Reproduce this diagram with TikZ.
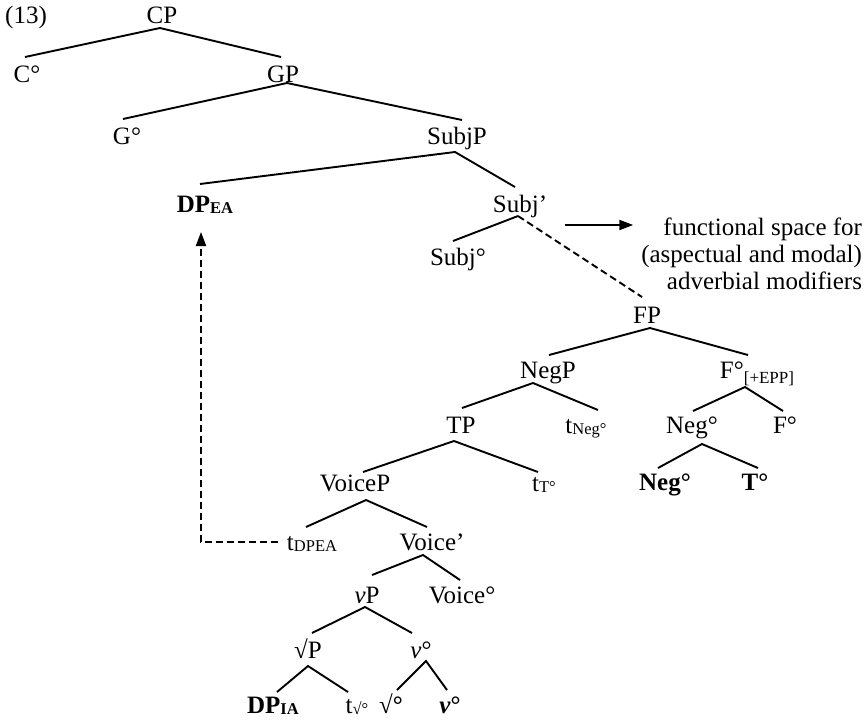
\documentclass[tikz,border=0pt]{standalone}
\usepackage{fontspec}
\setmainfont{Liberation Serif}
\usetikzlibrary{arrows.meta}
\newcommand\mysub[1]{\raisebox{-1.5pt}{\fontsize{16.5}{17}\selectfont #1}}
\begin{document}
\begin{tikzpicture}[x=1pt,y=-1pt,
  lbl/.style={inner sep=0pt, outer sep=0pt, anchor=base, font=\fontsize{25}{27}\selectfont},
  edge/.style={line width=1.9pt},
  dashedge/.style={line width=1.9pt, dash pattern=on 7pt off 4pt},
  tip/.style={-{Triangle[length=14pt,width=10pt]}}
  ]
\useasboundingbox (0,0) rectangle (867,721);
% labels
\node[lbl] (n13) at (26,23) {(13)};
\node[lbl] (CP) at (162,23) {CP};
\node[lbl] (C) at (27,82) {C°};
\node[lbl] (GP) at (283,82) {GP};
\node[lbl] (G) at (127,144) {G°};
\node[lbl] (SubjP) at (457,144) {SubjP};
\node[lbl] (DPEA) at (205,212) {\textbf{DP\mysub{EA}}};
\node[lbl] (Subjb) at (520,212) {Subj’};
\node[lbl] (Subjo) at (458,265) {Subj°};
\node[lbl, anchor=north east, align=right] (func) at (862,218) {functional space for\\(aspectual and modal)\\adverbial modifiers};
\node[lbl] (FP) at (647,323) {FP};
\node[lbl] (NegP) at (548,378) {NegP};
\node[lbl] (Fepp) at (757,378) {F°\raisebox{-5pt}{\fontsize{17}{17}\selectfont[+EPP]}};
\node[lbl] (TP) at (461,433) {TP};
\node[lbl] (tNeg) at (586,433) {t\mysub{Neg°}};
\node[lbl] (Neg) at (692,433) {Neg°};
\node[lbl] (Fo) at (785,433) {F°};
\node[lbl] (tT) at (544,491) {t\mysub{T°}};
\node[lbl] (NegB) at (665,490) {\textbf{Neg°}};
\node[lbl] (TB) at (755,490) {\textbf{T°}};
\node[lbl] (VoiceP) at (355,491) {VoiceP};
\node[lbl] (tDPEA) at (312,550) {t\mysub{DPEA}};
\node[lbl] (Voiceb) at (432,550) {Voice’};
\node[lbl] (vP) at (367,603) {\textit{v}P};
\node[lbl] (Voiceo) at (462,603) {Voice°};
\node[lbl] (rootP) at (308,658) {√P};
\node[lbl] (vo) at (421,658) {\textit{v}°};
\node[lbl] (DPIA) at (273,713) {\textbf{DP\mysub{IA}}};
\node[lbl] (troot) at (357,713) {t\mysub{√°}};
\node[lbl] (rootB) at (391,713) {\textbf{√°}};
\node[lbl] (vB) at (450,713) {\textbf{\textit{v}°}};
% tree edges
\draw[edge] ([shift={(-2,-25)}]C.base) -- ([shift={(-2,5)}]CP.base) -- ([shift={(-2,-25)}]GP.base);
\draw[edge] ([shift={(-4,-25)}]G.base) -- ([shift={(4,1)}]GP.base) -- ([shift={(5,-24)}]SubjP.base);
\draw[edge] ([shift={(-5,-28)}]DPEA.base) -- ([shift={(-2,8)}]SubjP.base) -- ([shift={(-5,-25)}]Subjb.base);
\draw[edge] ([shift={(-5,-24)}]Subjo.base) -- ([shift={(-2,4)}]Subjb.base);
\draw[dashedge] ([shift={(-2,4)}]Subjb.base) -- ([shift={(-5,-26)}]FP.base);
\draw[edge] ([shift={(1,-23)}]NegP.base) -- ([shift={(3,5)}]FP.base) -- ([shift={(-9,-23)}]Fepp.base);
\draw[edge] ([shift={(1,-25)}]TP.base) -- ([shift={(-15,5)}]NegP.base) -- ([shift={(12,-23)}]tNeg.base);
\draw[edge] ([shift={(1,-22)}]Neg.base) -- ([shift={(-12,9)}]Fepp.base) -- ([shift={(-2,-22)}]Fo.base);
\draw[edge] ([shift={(8,-19)}]VoiceP.base) -- ([shift={(-7,8)}]TP.base) -- ([shift={(-6,-19)}]tT.base);
\draw[edge] ([shift={(-7,-22)}]NegB.base) -- ([shift={(10,11)}]Neg.base) -- ([shift={(3,-22)}]TB.base);
\draw[edge] ([shift={(-6,-23)}]tDPEA.base) -- ([shift={(11,9)}]VoiceP.base) -- ([shift={(-5,-23)}]Voiceb.base);
\draw[edge] ([shift={(5,-28)}]vP.base) -- ([shift={(-9,5)}]Voiceb.base) -- ([shift={(-2,-23)}]Voiceo.base);
\draw[edge] ([shift={(4,-25)}]rootP.base) -- ([shift={(-2,4)}]vP.base) -- ([shift={(-9,-25)}]vo.base);
\draw[edge] ([shift={(4,-21)}]DPIA.base) -- ([shift={(0,8)}]rootP.base) -- ([shift={(-9,-21)}]troot.base);
\draw[edge] ([shift={(6,-23)}]rootB.base) -- ([shift={(5,3)}]vo.base) -- ([shift={(-3,-23)}]vB.base);
% movement arrow
\draw[dashedge, tip] ([shift={(-34,-8)}]tDPEA.base) -| ([shift={(-4,20)}]DPEA.base);
% arrow to the note
\coordinate (arrowstart) at (565,225);
\draw[edge, tip, shorten >=8pt] (arrowstart) -- (arrowstart -| func.west);
\end{tikzpicture}
\end{document}
